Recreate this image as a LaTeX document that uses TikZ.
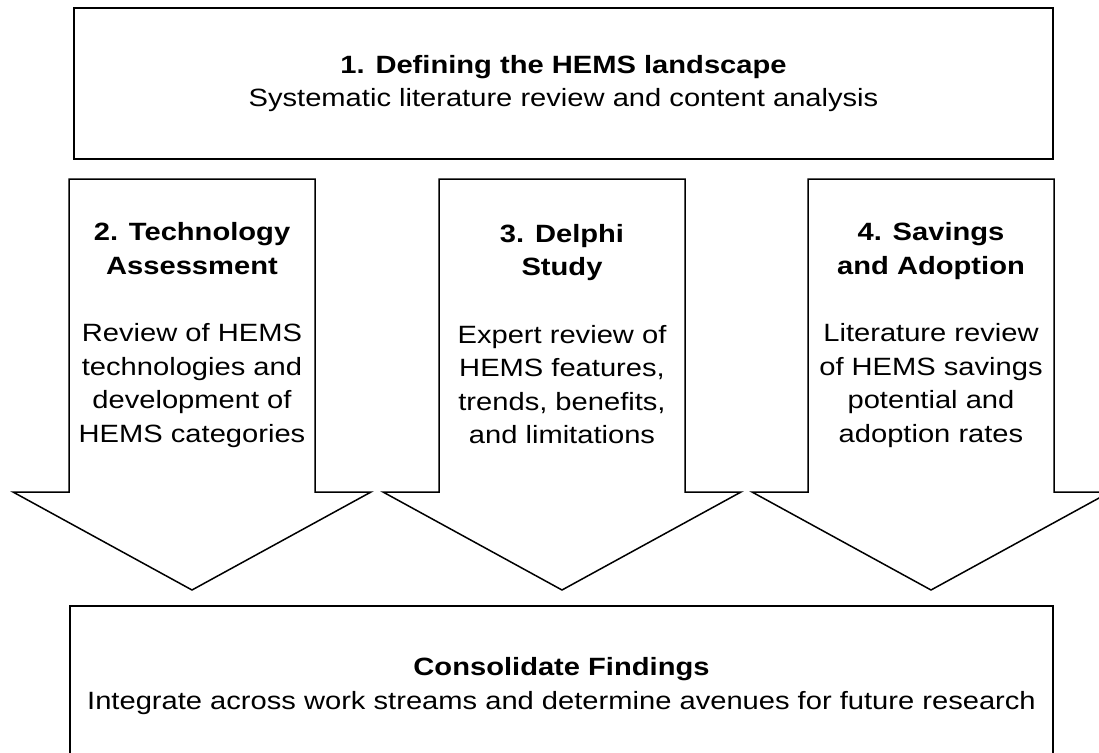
\documentclass[tikz,border=0pt]{standalone}
\usepackage{fontspec}
\setmainfont{Liberation Sans}[FakeStretch=1.165]
\usetikzlibrary{positioning}

\begin{document}
\begin{tikzpicture}[x=1pt, y=-1pt, line width=1.5pt,
  txt/.style={align=center, inner sep=0pt, font=\fontsize{25}{33.5}\selectfont},
  box/.style={txt, rectangle, draw=black, minimum width=979pt}]
\clip (0,0) rectangle (1099,752);

\node[box, minimum height=151pt] (define) at (563.5,83.5)
  {\textbf{1. Defining the HEMS landscape}\\Systematic literature review and content analysis};

% the three work streams
\foreach \cx in {192,562,931}
  \draw (\cx-123,179) -- (\cx+123,179) -- (\cx+123,492) -- (\cx+179,492)
    -- (\cx,590) -- (\cx-179,492) -- (\cx-123,492) -- cycle;

\node[txt] (tech) at (192,335) {\textbf{2. Technology}\\\textbf{Assessment}\\[34pt]Review of HEMS\\technologies and\\development of\\HEMS categories};
\node[txt] (delphi) at (562,334) {\textbf{3. Delphi}\\\textbf{Study}\\[34pt]Expert review of\\HEMS features,\\trends, benefits,\\and limitations};
\node[txt] (savings) at (931,335) {\textbf{4. Savings}\\\textbf{and Adoption}\\[34pt]Literature review\\of HEMS savings\\potential and\\adoption rates};

\node[box, minimum width=983pt, minimum height=160pt] (findings) at (561.5,686)
  {\textbf{Consolidate Findings}\\Integrate across work streams and determine avenues for future research};
\end{tikzpicture}
\end{document}
